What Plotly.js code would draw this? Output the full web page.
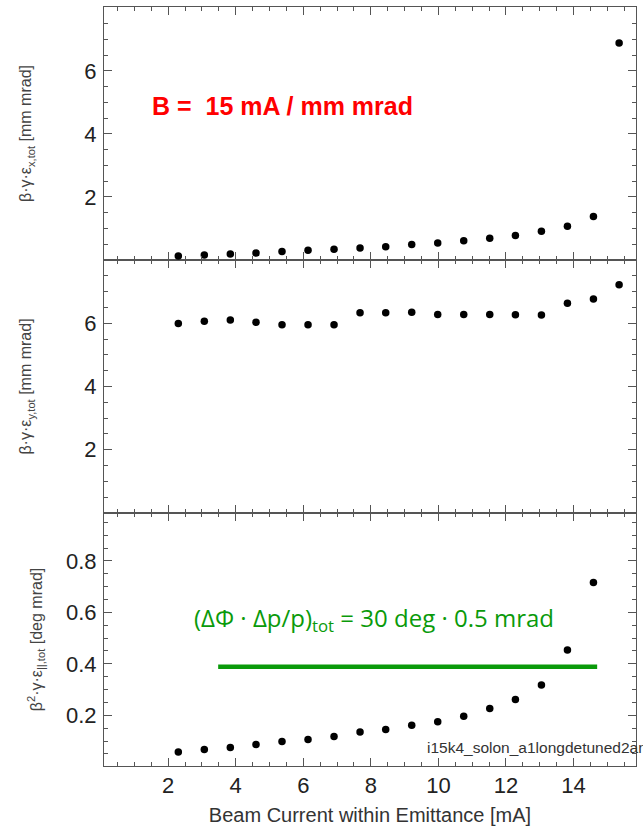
<!DOCTYPE html>
<html>
<head>
<meta charset="utf-8">
<script src="https://cdn.plot.ly/plotly-3.0.1.min.js"></script>
<style>html,body{margin:0;padding:0;background:#fff;}#chart{width:643px;height:831px;}</style>
</head>
<body>
<div id="chart"></div>
<script>
// Beam current within emittance [mA]
const currentX = [2.3, 3.07, 3.84, 4.6, 5.37, 6.14, 6.91, 7.68, 8.44, 9.21, 9.98, 10.75, 11.52, 12.28, 13.05, 13.82, 14.59, 15.35];
// Transverse x emittance [mm mrad]
const emitX = [0.13, 0.16, 0.19, 0.22, 0.27, 0.31, 0.34, 0.38, 0.42, 0.49, 0.54, 0.61, 0.69, 0.78, 0.91, 1.07, 1.38, 6.89];
// Transverse y emittance [mm mrad]
const emitY = [5.99, 6.06, 6.10, 6.03, 5.95, 5.95, 5.95, 6.33, 6.33, 6.35, 6.28, 6.28, 6.28, 6.27, 6.26, 6.63, 6.77, 7.22];
// Longitudinal emittance [deg mrad] (17 points)
const currentL = [2.3, 3.07, 3.84, 4.6, 5.37, 6.14, 6.91, 7.68, 8.44, 9.21, 9.98, 10.75, 11.52, 12.28, 13.05, 13.82, 14.59];
const emitL = [0.057, 0.067, 0.075, 0.087, 0.098, 0.106, 0.118, 0.135, 0.145, 0.161, 0.175, 0.196, 0.226, 0.261, 0.318, 0.454, 0.716];
// Acceptance reference line (30 deg · 0.5 mrad)
const limitX = [3.48, 14.7];
const limitY = [0.389, 0.389];
// Tick labels
const xTicks = [2, 4, 6, 8, 10, 12, 14];
const yTicksT = [2, 4, 6];
const yTicksL = [0.2, 0.4, 0.6, 0.8];

const lineCol = '#555';
const tickFont = {family: 'Liberation Sans, Arial, sans-serif', size: 22, color: '#222'};
const titleFont = {family: 'Liberation Sans, Arial, sans-serif', size: 16, color: '#444'};

function xax(extra) {
  return Object.assign({
    range: [0.1, 15.85], showgrid: false, zeroline: false,
    showline: true, linecolor: lineCol, linewidth: 1, mirror: 'ticks',
    ticks: 'inside', ticklen: 8, tickcolor: lineCol, tickwidth: 1,
    tickmode: 'array', tickvals: xTicks,
    minor: {ticks: 'inside', ticklen: 4, tickcolor: lineCol, tickmode: 'linear', tick0: 0, dtick: 0.5},
    tickfont: tickFont, ticklabelstandoff: 0
  }, extra);
}
function yax(extra) {
  return Object.assign({
    showgrid: false, zeroline: false,
    showline: true, linecolor: lineCol, linewidth: 1, mirror: 'ticks',
    ticks: 'inside', ticklen: 8, tickcolor: lineCol, tickwidth: 1,
    tickmode: 'array', tickfont: tickFont, ticklabelstandoff: 2
  }, extra);
}

const marker = {color: '#000', size: 7.5};
const traces = [
  {x: currentL, y: emitL, mode: 'markers', marker: marker, xaxis: 'x', yaxis: 'y', name: 'long'},
  {x: limitX, y: limitY, mode: 'lines', line: {color: '#0a9a0a', width: 4.5}, xaxis: 'x', yaxis: 'y', name: 'limit'},
  {x: currentX, y: emitY, mode: 'markers', marker: marker, xaxis: 'x2', yaxis: 'y2', name: 'y'},
  {x: currentX, y: emitX, mode: 'markers', marker: marker, xaxis: 'x3', yaxis: 'y3', name: 'x'}
];

const layout = {
  width: 643, height: 831,
  margin: {l: 104, r: 7, t: 7, b: 65},
  paper_bgcolor: '#fff', plot_bgcolor: '#fff',
  showlegend: false,
  xaxis: xax({anchor: 'y', title: {text: 'Beam Current within Emittance [mA]', font: {family: 'Liberation Sans, Arial, sans-serif', size: 20, color: '#333'}, standoff: 10}}),
  xaxis2: xax({anchor: 'y2', matches: 'x', showticklabels: false}),
  xaxis3: xax({anchor: 'y3', matches: 'x', showticklabels: false}),
  yaxis: yax({domain: [0, 0.3333], range: [0.003, 0.986], tickvals: yTicksL, tickformat: '.1f',
    minor: {ticks: 'inside', ticklen: 4, tickcolor: lineCol, tickmode: 'linear', tick0: 0, dtick: 0.05},
    title: {text: 'β<sup>2</sup>·γ·ε<sub>||,tot</sub> [deg mrad]', font: titleFont, standoff: 19}}),
  yaxis2: yax({domain: [0.3333, 0.6667], range: [0, 8], tickvals: yTicksT,
    minor: {ticks: 'inside', ticklen: 4, tickcolor: lineCol, tickmode: 'linear', tick0: 0, dtick: 0.5},
    title: {text: 'β·γ·ε<sub>y,tot</sub> [mm mrad]', font: titleFont, standoff: 48}}),
  yaxis3: yax({domain: [0.6667, 1], range: [0, 8.03], tickvals: yTicksT,
    minor: {ticks: 'inside', ticklen: 4, tickcolor: lineCol, tickmode: 'linear', tick0: 0, dtick: 0.5},
    title: {text: 'β·γ·ε<sub>x,tot</sub> [mm mrad]', font: titleFont, standoff: 48}}),
  annotations: [
    {xref: 'x3', yref: 'y3', x: 1.47, y: 4.88, xanchor: 'left', yanchor: 'middle', showarrow: false,
     text: '<b>B =  15 mA / mm mrad</b>', font: {family: 'Liberation Sans, Arial, sans-serif', size: 25, color: '#ff0000'}},
    {xref: 'x', yref: 'y', x: 2.7, y: 0.575, xanchor: 'left', yanchor: 'middle', showarrow: false,
     text: '(ΔΦ · Δp/p)<sub>tot</sub> = 30 deg · 0.5 mrad', font: {family: 'Open Sans, sans-serif', size: 24, color: '#0a9a0a'}},
    {xref: 'paper', yref: 'y', x: 0.603, y: 0.074, xanchor: 'left', yanchor: 'middle', showarrow: false,
     text: 'i15k4_solon_a1longdetuned2an', font: {family: 'Liberation Sans, Arial, sans-serif', size: 15.5, color: '#333'}}
  ]
};

Plotly.newPlot('chart', traces, layout, {displayModeBar: false, staticPlot: true});
</script>
</body>
</html>
